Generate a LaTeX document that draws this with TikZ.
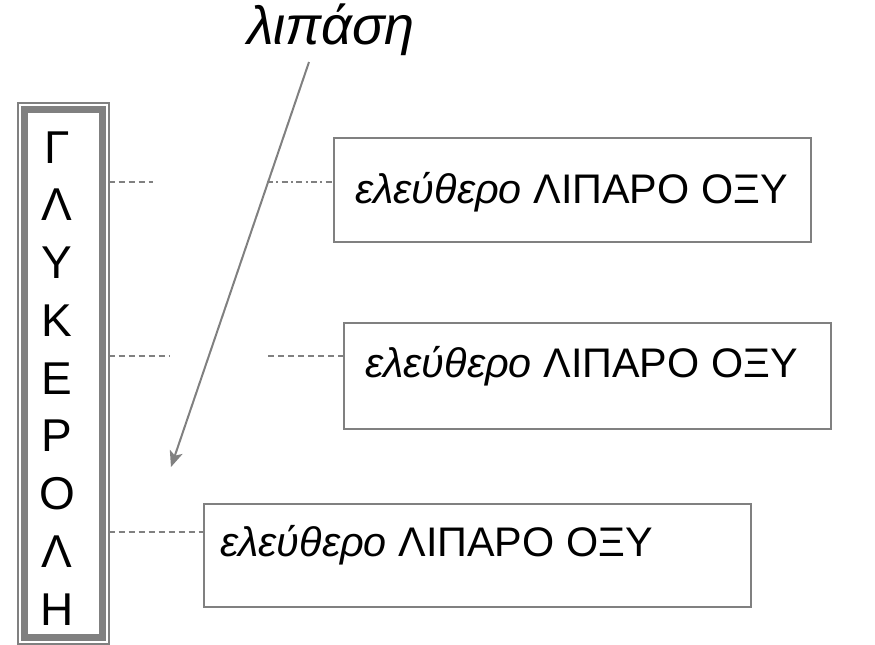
\documentclass[tikz,border=0pt]{standalone}
\usepackage{fontspec}
\setmainfont{Liberation Sans}
\usetikzlibrary{arrows.meta}
\definecolor{lg}{HTML}{808080}
\begin{document}
\begin{tikzpicture}[x=0.75pt,y=-0.75pt,
  box/.style={draw=lg,line width=1.5pt,inner sep=0pt,anchor=north west},
  lbl/.style={anchor=base west,inner sep=0pt,font=\fontsize{31}{36}\selectfont},
  letter/.style={anchor=base,inner sep=0pt,font=\fontsize{34.5}{40}\selectfont},
  conn/.style={draw=lg,line width=1.5pt,dash pattern=on 4.5pt off 3pt},
  conndd/.style={draw=lg,line width=1.5pt,dash pattern=on 4.5pt off 2.5pt on 1.5pt off 2.5pt}]
\useasboundingbox (0,0) rectangle (875,644);
% left frame
\draw[lg,line width=1.5pt] (17.5,102.5) rectangle (108.5,643.5);
\draw[lg,line width=5.25pt] (24.5,109.5) rectangle (102.5,637.5);
\foreach \ch [count=\i] in {Γ,Λ,Υ,Κ,Ε,Ρ,Ο,Λ,Η}
  \node[letter] (g\i) at (57,{163+(\i-1)*57.75}) {\ch};
\coordinate (fr1) at (108.5,182);
\coordinate (fr2) at (108.5,356);
\coordinate (fr3) at (108.5,532);
% boxes
\node[box,minimum width=477*0.75pt,minimum height=104*0.75pt] (b1) at (333,137) {};
\node[box,minimum width=487*0.75pt,minimum height=106*0.75pt] (b2) at (343,322) {};
\node[box,minimum width=547*0.75pt,minimum height=103*0.75pt] (b3) at (203,503) {};
\node[lbl] (t1) at (355,203) {\textit{ελεύθερο} ΛΙΠΑΡΟ ΟΞΥ};
\node[lbl] (t2) at (365,377) {\textit{ελεύθερο} ΛΙΠΑΡΟ ΟΞΥ};
\node[lbl] (t3) at (220,556) {\textit{ελεύθερο} ΛΙΠΑΡΟ ΟΞΥ};
% connectors
\coordinate (e1) at (153,182);
\coordinate (s1) at (267,182);
\coordinate (e2) at (169,356);
\coordinate (s2) at (268,356);
\draw[conn] (fr1) -- (e1);
\draw[conndd] (s1) -- (b1.west |- s1);
\draw[conn] (fr2) -- (e2);
\draw[conn] (s2) -- (b2.west |- s2);
\draw[conn] (fr3) -- (b3.west |- fr3);
% lipasi
\node[anchor=base,inner sep=0pt,font=\fontsize{40.5}{46}\selectfont\itshape] (lip) at (331,44) {λιπάση};
\coordinate (a0) at (309,62);
\coordinate (a1) at (171,467);
\draw[lg,line width=1.5pt,-{Stealth[length=12pt,width=10pt,inset=3pt]}] (a0) -- (a1);
\end{tikzpicture}
\end{document}
